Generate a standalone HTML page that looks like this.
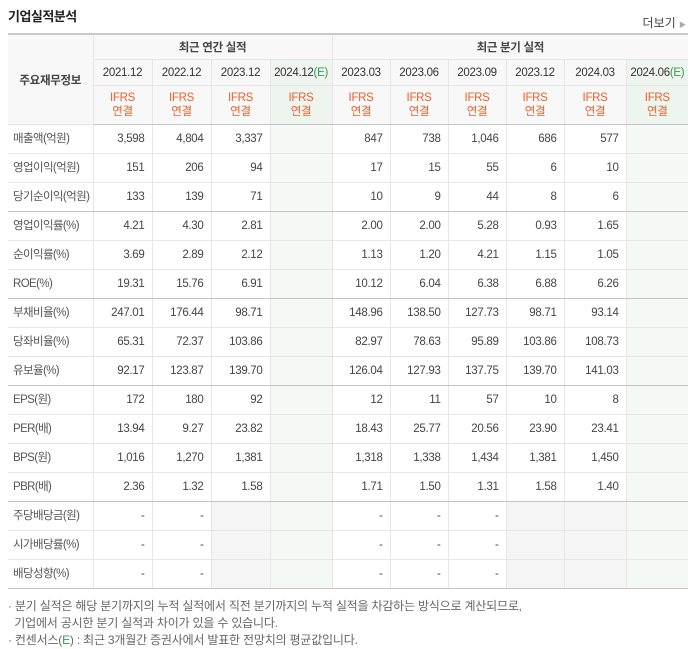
<!DOCTYPE html>
<html><head><meta charset="utf-8">
<style>
body{margin:0;background:#fff;width:694px;height:648px;overflow:hidden;font-family:"Liberation Sans","Noto Sans CJK KR",sans-serif;}
.title{position:absolute;left:8px;top:6px;font-size:13px;font-weight:bold;color:#222;letter-spacing:-0.5px;}
.more{position:absolute;right:8px;top:14px;font-size:12px;color:#444;}
.more span{font-size:7px;color:#aaa;}
table{position:absolute;left:8px;top:33px;border-collapse:collapse;table-layout:fixed;width:680px;font-size:11.5px;}
td,th{border:1px solid #e6e6e6;padding:0;white-space:nowrap;overflow:hidden;letter-spacing:-0.3px;}
th{font-weight:normal;background:#f8f8f8;color:#333;}
tr:first-child th{border-top:2px solid #c9c9c9;}
th.lab{color:#555;}
.r1 th{height:24px;font-weight:bold;color:#444;}
.r2 th{height:25px;}
.r3 th{height:38px;color:#e8602c;line-height:14px;}
th.est{background:#eef5ef;}
.est2{background:#f4f9f5;}
.gray{background:#f5f5f5;}
td{height:28px;line-height:28px;text-align:right;padding-right:7px;color:#444;}
td.lab{text-align:left;padding-left:5px;padding-right:0;color:#555;letter-spacing:-0.6px;}
tr.grp td{border-bottom:1px solid #c4c4c4;}
tr:last-child td{border-bottom:1px solid #c4c4c4;}
tr.r3 th{border-bottom:1px solid #c4c4c4;}
table tr > :first-child{border-left:none;}
table tr > :last-child{border-right:none;}
.bl{border-left:1px solid #c4c4c4 !important;}
.e{color:#3a9a4a;}
.notes{position:absolute;left:8px;top:598px;font-size:12px;color:#666;line-height:17px;letter-spacing:-0.2px;}
.notes b{font-weight:normal;color:#3a9a4a;}
</style></head><body>
<div class="title">기업실적분석</div>
<div class="more">더보기 <span>▶</span></div>
<table>
<colgroup><col style="width:85px"><col style="width:59px"><col style="width:59px"><col style="width:59px"><col style="width:62px"><col style="width:58px"><col style="width:58px"><col style="width:58px"><col style="width:58px"><col style="width:62px"><col style="width:62px"></colgroup>
<tbody id="tb"></tbody>
</table>
<div class="notes">
· 분기 실적은 해당 분기까지의 누적 실적에서 직전 분기까지의 누적 실적을 차감하는 방식으로 계산되므로,<br>
&nbsp;&nbsp;기업에서 공시한 분기 실적과 차이가 있을 수 있습니다.<br>
· 컨센서스(<b>E</b>) : 최근 3개월간 증권사에서 발표한 전망치의 평균값입니다.
</div>
<script>
const periods=["2021.12","2022.12","2023.12","2024.12","2023.03","2023.06","2023.09","2023.12","2024.03","2024.06"];
const estimate=[false,false,false,true,false,false,false,false,false,true];
const rowLabels=["매출액(억원)","영업이익(억원)","당기순이익(억원)","영업이익률(%)","순이익률(%)","ROE(%)","부채비율(%)","당좌비율(%)","유보율(%)","EPS(원)","PER(배)","BPS(원)","PBR(배)","주당배당금(원)","시가배당률(%)","배당성향(%)"];
const groupEnd=[2,5,8,12];
const values=[
["3,598","4,804","3,337","","847","738","1,046","686","577",""],
["151","206","94","","17","15","55","6","10",""],
["133","139","71","","10","9","44","8","6",""],
["4.21","4.30","2.81","","2.00","2.00","5.28","0.93","1.65",""],
["3.69","2.89","2.12","","1.13","1.20","4.21","1.15","1.05",""],
["19.31","15.76","6.91","","10.12","6.04","6.38","6.88","6.26",""],
["247.01","176.44","98.71","","148.96","138.50","127.73","98.71","93.14",""],
["65.31","72.37","103.86","","82.97","78.63","95.89","103.86","108.73",""],
["92.17","123.87","139.70","","126.04","127.93","137.75","139.70","141.03",""],
["172","180","92","","12","11","57","10","8",""],
["13.94","9.27","23.82","","18.43","25.77","20.56","23.90","23.41",""],
["1,016","1,270","1,381","","1,318","1,338","1,434","1,381","1,450",""],
["2.36","1.32","1.58","","1.71","1.50","1.31","1.58","1.40",""],
["-","-",null,"","-","-","-",null,null,""],
["-","-",null,"","-","-","-",null,null,""],
["-","-",null,"","-","-","-",null,null,""]
];
const tb=document.getElementById('tb');
let h='<tr class="r1"><th class="lab" rowspan="3">주요재무정보</th><th colspan="4">최근 연간 실적</th><th colspan="6" class="bl">최근 분기 실적</th></tr>';
h+='<tr class="r2">';
periods.forEach((p,i)=>{h+='<th class="'+(estimate[i]?'est ':'')+(i==4?'bl':'')+'">'+p+(estimate[i]?'<span class="e">(E)</span>':'')+'</th>';});
h+='</tr><tr class="r3">';
periods.forEach((p,i)=>{h+='<th class="'+(estimate[i]?'est ':'')+(i==4?'bl':'')+'">IFRS<br>연결</th>';});
h+='</tr>';
rowLabels.forEach((l,r)=>{
  h+='<tr class="'+(groupEnd.includes(r)?'grp':'')+'"><td class="lab">'+l+'</td>';
  values[r].forEach((v,i)=>{
    let c=estimate[i]?'est2':(v===null?'gray':'');
    if(i==4)c+=' bl';
    h+='<td class="'+c+'">'+(v||'')+'</td>';
  });
  h+='</tr>';
});
tb.innerHTML=h;
</script>
</body></html>
